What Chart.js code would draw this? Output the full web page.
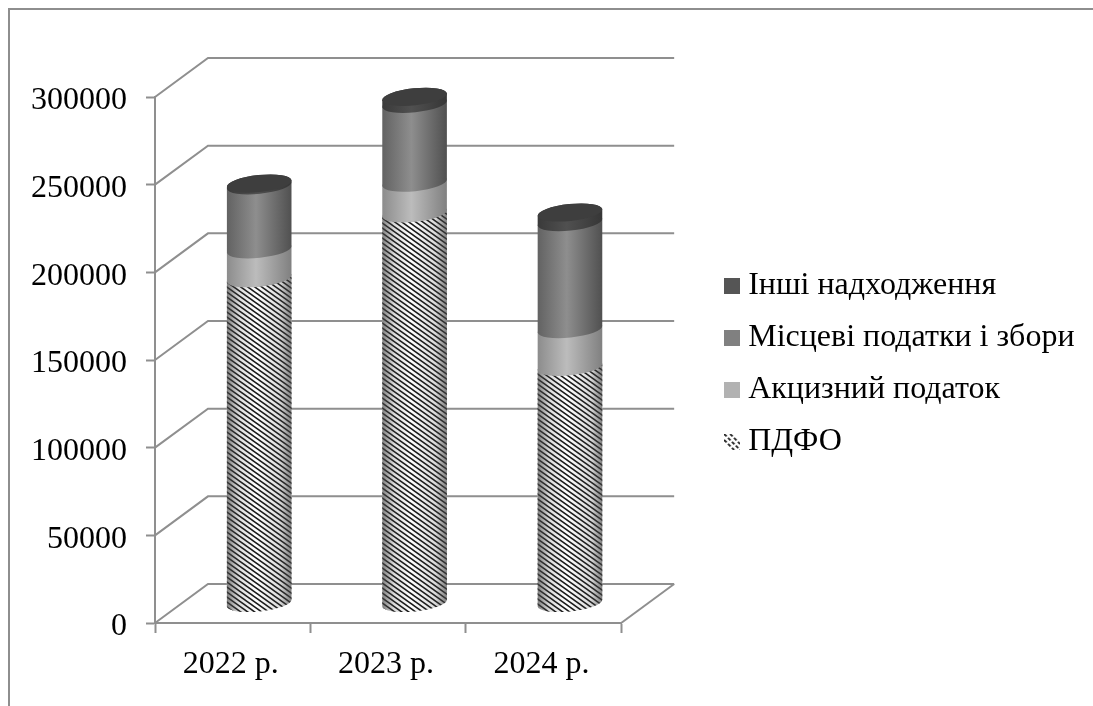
<!DOCTYPE html>
<html>
<head>
<meta charset="utf-8">
<style>
  html, body { margin: 0; padding: 0; background: #fff; }
  #wrap { position: relative; width: 1093px; height: 706px; overflow: hidden; }
  #frame { position: absolute; left: 8px; top: 8px; right: -4px; bottom: -4px; border-top: 2px solid #8e8e8e; border-left: 2px solid #8e8e8e; }
  canvas { position: absolute; left: 0; top: 0; }
</style>
</head>
<body>
<div id="wrap">
  <div id="frame"></div>
  <canvas id="revenueChart" width="1093" height="706"></canvas>
</div>
<script src="https://cdn.jsdelivr.net/npm/chart.js@4/dist/chart.umd.js"></script>
<script>
const years = ["2022 р.", "2023 р.", "2024 р."];
const seriesNames = ["ПДФО", "Акцизний податок", "Місцеві податки і збори", "Інші надходження"];
const pdfo = [185500, 222500, 135000];
const excise = [16500, 17500, 21500];
const localTaxes = [36500, 45000, 61000];
const other = [1000, 4000, 5500];
const swatchColors = ["#ffffff", "#b2b2b2", "#808080", "#555555"];

// left edge, middle and right edge of each cylinder's shading
const sideShades = [
    [[0, "rgba(70,70,70,0.7)"], [0.18, "rgba(70,70,70,0.2)"], [0.45, "rgba(70,70,70,0)"], [0.82, "rgba(70,70,70,0.2)"], [1, "rgba(70,70,70,0.7)"]],
    [[0, "#8c8c8c"], [0.45, "#bcbcbc"], [1, "#808080"]],
    [[0, "#626262"], [0.45, "#8e8e8e"], [1, "#505050"]],
    [[0, "#3a3a3a"], [0.45, "#505050"], [1, "#363636"]]
];

const FONT = "'Liberation Serif', 'Times New Roman', serif";
const AXIS_GREY = "#8f8f8f";
const DEPTH_X = 53;  // wall offset behind the front plane
const DEPTH_Y = -39;
const TILT = -6 * Math.PI / 180;  // ellipses lean up to the right
const ELLIPSE_B = 8.5;

// diagonal hatch tile for the ПДФО series
function makeHatch(ctx) {
    const tile = document.createElement("canvas");
    tile.width = 7;
    tile.height = 5;
    const t = tile.getContext("2d");
    t.fillStyle = "#fff";
    t.fillRect(0, 0, 7, 5);
    t.strokeStyle = "#181818";
    t.lineWidth = 1.5;
    for (let i = -1; i <= 1; i++) {
        t.beginPath();
        t.moveTo(-7, -5 + i * 5);
        t.lineTo(14, 10 + i * 5);
        t.stroke();
    }
    return ctx.createPattern(tile, "repeat");
}

// small square markers for the legend
function makeSwatch(index) {
    const c = document.createElement("canvas");
    c.width = 16;
    c.height = 16;
    const s = c.getContext("2d");
    if (index === 0) {
        s.strokeStyle = "#222";
        s.lineWidth = 1.8;
        s.setLineDash([3.5, 2]);
        [-6, 0, 6].forEach(function (d) {
            s.beginPath();
            s.moveTo(Math.max(0, -d), Math.max(0, d));
            s.lineTo(16 - Math.max(0, d), 16 - Math.max(0, -d));
            s.stroke();
        });
    } else {
        s.fillStyle = swatchColors[index];
        s.fillRect(0, 0, 16, 16);
    }
    return c;
}

function horizontalGradient(ctx, left, right, stops) {
    const g = ctx.createLinearGradient(left, 0, right, 0);
    stops.forEach(function (stop) {
        g.addColorStop(stop[0], stop[1]);
    });
    return g;
}

// the side of a cylinder between two stack levels
function sidePath(ctx, cx, yTop, yBottom, a) {
    ctx.beginPath();
    ctx.ellipse(cx, yBottom, a, ELLIPSE_B, TILT, 0, Math.PI);
    ctx.ellipse(cx, yTop, a, ELLIPSE_B, TILT, Math.PI, Math.PI * 2);
    ctx.closePath();
}

// back wall, side wall and floor, taken from the value axis ticks
const wallsPlugin = {
    id: "walls",
    beforeDatasetsDraw(chart) {
        const ctx = chart.ctx;
        const y = chart.scales.y;
        const area = chart.chartArea;
        ctx.save();
        ctx.strokeStyle = AXIS_GREY;
        ctx.lineWidth = 2;
        y.ticks.forEach(function (tick) {
            const py = y.getPixelForValue(tick.value);
            ctx.beginPath();
            ctx.moveTo(area.left, py);
            ctx.lineTo(area.left + DEPTH_X, py + DEPTH_Y);
            ctx.lineTo(area.right + DEPTH_X, py + DEPTH_Y);
            ctx.stroke();
        });
        const floor = y.getPixelForValue(0);
        ctx.beginPath();
        ctx.moveTo(area.right, floor);
        ctx.lineTo(area.right + DEPTH_X, floor + DEPTH_Y);
        ctx.stroke();
        ctx.restore();
    }
};

// stacked bars drawn as cylinders, standing halfway into the depth
const cylinderPlugin = {
    id: "cylinders",
    beforeDatasetsDraw(chart) {
        const ctx = chart.ctx;
        const hatch = makeHatch(ctx);
        const count = chart.data.datasets.length;
        for (let d = 0; d < count; d++) {
            chart.getDatasetMeta(d).data.forEach(function (bar) {
                const cx = bar.x + DEPTH_X / 2;
                const a = bar.width / 2;
                const yTop = bar.y + DEPTH_Y / 2;
                const yBottom = bar.base + DEPTH_Y / 2;
                ctx.save();
                sidePath(ctx, cx, yTop, yBottom, a);
                if (d === 0) {
                    ctx.fillStyle = hatch;
                    ctx.fill();
                }
                ctx.fillStyle = horizontalGradient(ctx, cx - a, cx + a, sideShades[d]);
                ctx.fill();
                if (d === count - 1) {
                    ctx.beginPath();
                    ctx.ellipse(cx, yTop, a, ELLIPSE_B, TILT, 0, Math.PI * 2);
                    ctx.fillStyle = "#3e3e3e";
                    ctx.fill();
                }
                ctx.restore();
            });
        }
    },
    beforeDatasetDraw() {
        return false;
    }
};

const allSeries = [pdfo, excise, localTaxes, other];

const ctx = document.getElementById("revenueChart").getContext("2d");
const revenueChart = new Chart(ctx, {
    type: "bar",
    data: {
        labels: years,
        datasets: seriesNames.map(function (name, i) {
            return {
                label: name,
                data: allSeries[i],
                backgroundColor: swatchColors[i],
                barPercentage: 0.418,
                categoryPercentage: 1
            };
        })
    },
    plugins: [wallsPlugin, cylinderPlugin],
    options: {
        responsive: false,
        animation: false,
        layout: { padding: { top: 22, right: 8.5, bottom: 0, left: 0 } },
        scales: {
            x: {
                stacked: true,
                afterFit: function (scale) { scale.height = 83; },
                grid: { drawOnChartArea: false, drawTicks: true, tickLength: 10, tickWidth: 2, tickColor: AXIS_GREY },
                border: { display: true, color: AXIS_GREY, width: 2 },
                ticks: { color: "#000", padding: 12, labelOffset: -2, font: { family: FONT, size: 32 }, maxRotation: 0 }
            },
            y: {
                stacked: true,
                min: 0,
                max: 300000,
                afterFit: function (scale) { scale.width = 155; },
                grid: { drawOnChartArea: false, drawTicks: true, tickLength: 9, tickWidth: 2, tickColor: AXIS_GREY },
                border: { display: true, color: AXIS_GREY, width: 2 },
                ticks: {
                    stepSize: 50000,
                    color: "#000",
                    padding: 19,
                    labelOffset: 4,
                    font: { family: FONT, size: 32 },
                    callback: function (value) { return String(value); }
                }
            },
            // empty axes that only hold room for the depth and the top margin
            gapRight: {
                axis: "y",
                type: "linear",
                position: "right",
                afterFit: function (scale) { scale.width = 91; },
                grid: { display: false },
                border: { display: false },
                ticks: { display: false }
            },
            gapTop: {
                axis: "x",
                type: "linear",
                position: "top",
                afterFit: function (scale) { scale.height = 75; },
                grid: { display: false },
                border: { display: false },
                ticks: { display: false }
            }
        },
        plugins: {
            tooltip: { enabled: false },
            legend: {
                position: "right",
                reverse: true,
                maxWidth: 420,
                labels: {
                    color: "#000",
                    font: { family: FONT, size: 32, lineHeight: 1.2 },
                    padding: 20,
                    usePointStyle: true,
                    boxWidth: 0.01,
                    boxHeight: 16,
                    generateLabels: function (chart) {
                        const items = Chart.defaults.plugins.legend.labels.generateLabels(chart);
                        items.forEach(function (item) {
                            item.pointStyle = makeSwatch(item.datasetIndex);
                        });
                        return items;
                    }
                }
            }
        }
    }
});
</script>
</body>
</html>
